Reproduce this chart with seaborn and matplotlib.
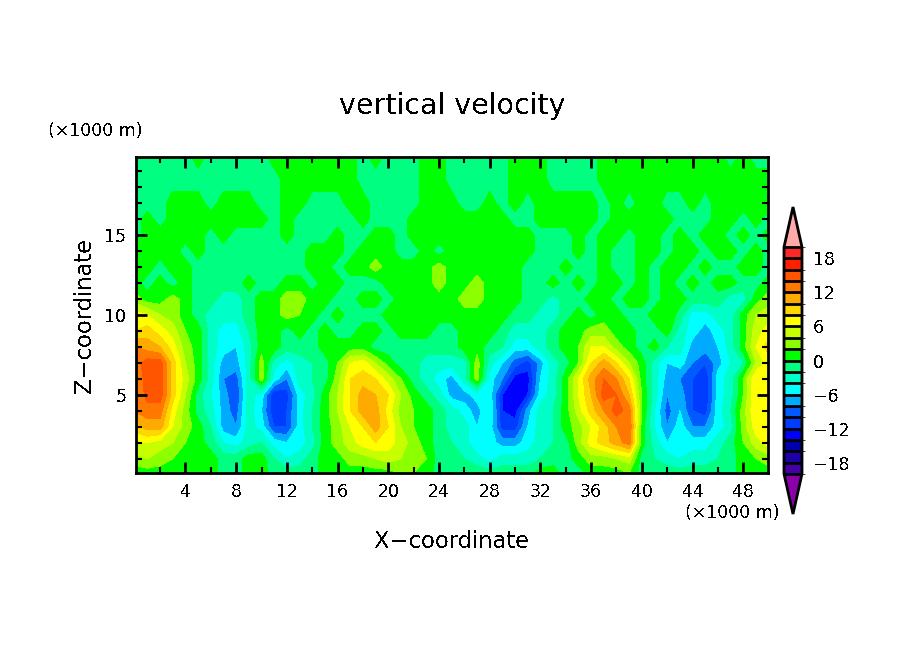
import numpy as np
import matplotlib
matplotlib.use('Agg')
import matplotlib.pyplot as plt
from matplotlib.colors import ListedColormap, BoundaryNorm
import seaborn as sns

x_km = list(range(0, 51))
z_km = [19.9, 18.5, 17, 16, 15, 14, 13, 12, 11, 10, 9, 8, 7, 6, 5, 4, 3, 2, 1, 0.1]

# vertical velocity, one row per height, x = 0..50
w_z199 = [-1,-1,-1,-1,-1,1,-1,-1,-1,-1, -1,1,1,1,1,1,1,1,-1,1, -1,-1,-1,1,1,-1,-1,-1,-1,-1, 1,1,1,-1,-1,-1,-1,1,1,1, 1,1,1,1,1,1,1,-1,1,-1, -1]
w_z185 = [-1,-1,-1,-1,-1,-1,-1,-1,-1,-1, -1,-1,1,1,1,1,1,1,-1,-1, -1,-1,-1,1,1,-1,-1,-1,-1,-1, 1,1,1,-1,-1,-1,-1,1,1,1, 1,1,1,1,1,1,1,1,1,1, 1]
w_z17 = [-1,-1,-1,1,1,1,-1,1,1,1, -1,-1,1,1,-1,-1,-1,1,1,-1, -1,-1,-1,1,1,1,-1,-1,1,-1, 1,-1,1,1,1,1,1,-1,1,-1, 1,1,-1,-1,1,-1,1,1,1,1, 1]
w_z16 = [-1,1,-1,1,1,1,1,1,1,1, 1,-1,1,-1,-1,-1,-1,-1,1,-1, -1,-1,1,1,1,1,1,1,1,1, -1,-1,1,1,1,1,1,-1,1,1, 1,1,1,-1,-1,-1,1,1,-1,1, -1]
w_z15 = [-1,1,1,1,1,1,-1,1,-1,-1, -1,-1,1,-1,-1,-1,1,-1,-1,1, 1,-1,1,1,1,1,1,1,1,1, 1,1,-1,-1,-1,1,-1,1,1,-1, 1,1,-1,1,-1,1,1,-1,1,-1, 1]
w_z14 = [1,1,1,1,-1,1,-1,-1,-1,-1, -1,-1,-1,-1,1,1,1,-1,1,1, 1,-1,-1,1,-1,1,1,1,1,1, 1,1,-1,-1,-1,1,-1,1,-1,-1, 1,1,-1,1,1,-1,1,1,-1,1, -1]
w_z13 = [1,1,-1,1,1,-1,-1,-1,-1,-1, -1,-1,-1,-1,1,1,-1,1,1,3, 1,1,1,1,3,1,1,1,1,1, 1,-1,-1,-1,1,-1,-1,1,-1,-1, 1,-1,1,1,-1,1,-1,-1,1,1, -1]
w_z12 = [1,-1,1,-1,1,-1,-1,-1,-1,1, -1,-1,1,1,-1,1,1,-1,-1,-1, 1,1,1,1,3,1,1,3,1,1, 1,-1,-1,1,-1,1,-1,1,1,-1, 1,-1,1,-1,1,-1,1,1,-1,-1, 1]
w_z11 = [3,1,1,3,1,-1,-1,-3,-3,-1, 1,1,3,3,1,1,-1,-1,1,1, -1,1,1,1,1,1,3,3,1,1, 1,-1,-1,-3,-1,-1,1,1,-1,1, 1,-1,1,1,-1,-1,-1,-3,-3,1, 3]
w_z10 = [7,6,4,3,1,-1,-3,-3,-3,-1, 1,1,3,2,1,-1,1,-1,-1,-1, 1,1,1,1,1,1,1,1,1,1, -1,-1,-3,-3,-1,1,-1,1,1,-1, -1,1,2,-1,-5,-5,-3,-3,1,4, 5]
w_z9 = [8,9,7,5,2,1,-3,-5,-5,-2, 1,1,-1,1,-1,1,-1,-1,1,1, -1,1,1,1,-1,-1,1,1,1,-1, -3,-3,-3,-1,1,1,3,3,1,1, -1,-1,1,-3,-5,-7,-5,-3,1,5, 7]
w_z8 = [12,11,10,7,3,1,-3,-5,-6,-3, 1,1,-1,-1,-1,1,1,1,1,-1, -1,-1,-1,-1,-1,-1,1,1,-1,-2, -5,-5,-3,-1,1,2,6,6,3,1, -1,1,-2,-3,-7,-7,-6,-3,1,6, 9]
w_z7 = [13,15,15,9,4,1,-3,-7,-7,-3, 3,-3,-5,-3,-2,-1,2,6,7,4, 1,-1,-1,-3,-3,-3,-3,3,-3,-6, -9,-11,-7,-3,-1,2,8,11,8,4, 1,-3,-6,-5,-8,-10,-7,-4,-2,4, 7]
w_z6 = [12,15,15,9,5,1,-3,-8,-9,-3, 3,-5,-8,-3,-2,-1,3,8,9,8, 5,2,-1,-3,-5,-7,-3,3,-5,-8, -13,-13,-6,-3,1,6,11,14,12,8, 1,-3,-7,-8,-10,-12,-5,-3,2,8, 8]
w_z5 = [11,15,15,9,4,-1,-4,-7,-10,-3, -5,-12,-11,-5,-3,1,4,8,11,10, 8,4,1,-1,-3,-7,-7,-5,-5,-12, -13,-12,-5,-3,1,6,10,15,14,10, 2,-3,-8,-7,-10,-12,-5,-3,2,8, 8]
w_z4 = [12,13,13,7,3,-1,-3,-7,-9,-3, -6,-12,-10,-5,-2,1,4,8,11,11, 7,3,2,1,-1,-3,-5,-7,-4,-12, -13,-7,-3,-2,1,5,9,12,15,13, 2,-4,-9,-6,-10,-11,-5,-2,3,8, 8]
w_z3 = [9,11,11,6,3,1,-2,-7,-8,-3, -5,-10,-10,-5,-2,1,3,6,8,11, 8,4,2,1,-1,-3,-3,-6,-5,-11, -11,-6,-3,-2,1,3,6,9,12,14, 1,-4,-8,-5,-8,-8,-5,-3,3,7, 8]
w_z2 = [6,6,5,4,2,1,-1,-4,-5,-3, -2,-5,-6,-5,-3,1,3,5,7,8, 7,5,3,1,-1,-2,-3,-6,-5,-7, -7,-5,-3,-2,-1,3,7,9,11,13, 1,-3,-6,-5,-5,-5,-3,-1,2,5, 7]
w_z1 = [3,4,3,2,1,1,1,-1,-1,1, 1,-2,-4,-3,-1,1,1,3,3,4, 5,4,3,2,-1,-1,-2,-3,-5,-3, -3,-3,-2,-1,-1,1,3,3,4,5, -1,-2,-3,-4,-3,-3,-2,-1,1,2, 3]
w_z0 = [1,1,1,1,1,1,1,-1,-1,1, 1,-1,-1,-1,-1,1,1,1,1,1, 1,2,2,1,-1,-1,-1,-1,-1,-1, -1,-1,1,1,-1,-1,1,1,1,2, -1,-1,-1,-1,-1,-1,-1,-1,1,1, 1]

levels = list(range(-20, 22, 2))
band_colors = ['#4600aa', '#1e00aa', '#0000aa', '#0000ff', '#003cff', '#005aff', '#00aaff',
               '#00ffff', '#00ffc8', '#00ff80', '#00ff00', '#8cff00', '#c8ff00', '#ffff00',
               '#ffd700', '#ffaa00', '#ff7800', '#ff5500', '#ff2000', '#ff2828']
under_color = '#8c00aa'
over_color = '#ffaaaa'
cbar_ticks = [-18, -12, -6, 0, 6, 12, 18]

sns.set_style('white')
plt.rcParams['font.family'] = ['DejaVu Sans']
plt.rcParams['text.antialiased'] = False

W, H = 904, 654
fig = plt.figure(figsize=(W / 100, H / 100), dpi=100)

def px_axes(left, top, right, bottom):
    return fig.add_axes([left / W, 1 - bottom / H, (right - left) / W, (bottom - top) / H])

w = np.array([w_z199, w_z185, w_z17, w_z16, w_z15, w_z14, w_z13, w_z12, w_z11, w_z10,
              w_z9, w_z8, w_z7, w_z6, w_z5, w_z4, w_z3, w_z2, w_z1, w_z0], dtype=float)

cmap = ListedColormap(sns.color_palette(band_colors, len(band_colors))).with_extremes(under=under_color, over=over_color)
norm = BoundaryNorm(levels, cmap.N)

ax = px_axes(136, 157, 768, 473)
cf = ax.contourf(x_km, z_km, w, levels=levels, cmap=cmap, norm=norm, extend='both', antialiased=False)
ax.set_xlim(0.1, 49.95)
ax.set_ylim(0.1, 19.9)
# seaborn puts the ticks under the filled contours otherwise
ax.set_axisbelow(False)

ax.set_xticks(range(4, 50, 4))
ax.set_xticks(range(2, 50, 2), minor=True)
ax.set_yticks([5, 10, 15])
ax.set_yticks(range(1, 20), minor=True)
ax.tick_params(axis='both', which='major', direction='in', length=8, width=2, bottom=True, left=True,
               top=True, right=True, labelsize=12.5, pad=7, color='black', labelcolor='black')
ax.tick_params(axis='both', which='minor', direction='in', length=4, width=1.5, bottom=True, left=True,
               top=True, right=True, color='black')
for sp in ax.spines.values():
    sp.set_linewidth(2)
    sp.set_color('black')

def label(px, py, s, **kw):
    fig.text(px / W, 1 - py / H, s, ha='center', va='center', color='black', **kw)

label(452, 106, 'vertical velocity', fontsize=20.5)
label(95, 131, '(×1000 m)', fontsize=12.5)
label(732, 513, '(×1000 m)', fontsize=12.5)
label(452, 541, 'X−coordinate', fontsize=16.3)
label(84, 315, 'Z−coordinate', fontsize=16.3, rotation=90)

cax = px_axes(784, 207, 802, 514)
cb = fig.colorbar(cf, cax=cax, extend='both', extendfrac=40 / 226, extendrect=False, drawedges=True, spacing='uniform')
cb.set_ticks(cbar_ticks, labels=[str(t).replace('-', '−') for t in cbar_ticks])
cb.ax.tick_params(length=0, labelsize=12.5, pad=8, labelcolor='black')
cb.outline.set_linewidth(2)
cb.outline.set_edgecolor('black')
cb.dividers.set_linewidth(2)
cb.dividers.set_color('black')

fig.savefig('out.png', dpi=100)
